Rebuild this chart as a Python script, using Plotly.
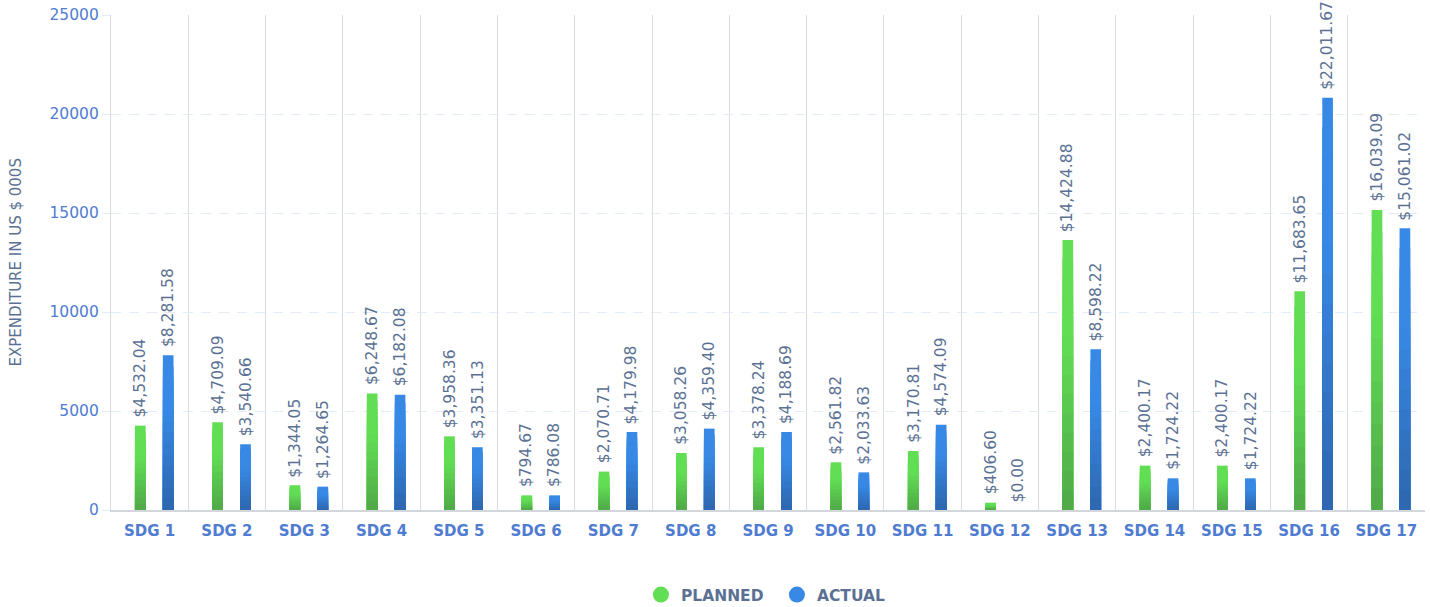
import plotly.graph_objects as go

categories = [f"SDG {i}" for i in range(1, 18)]

# values printed on the chart (US $ 000s)
planned_values = [4532.04, 4709.09, 1344.05, 6248.67, 3958.36, 794.67, 2070.71, 3058.26,
                  3378.24, 2561.82, 3170.81, 406.60, 14424.88, 2400.17, 2400.17, 11683.65, 16039.09]
actual_values = [8281.58, 3540.66, 1264.65, 6182.08, 3351.13, 786.08, 4179.98, 4359.40,
                 4188.69, 2033.63, 4574.09, 0.00, 8598.22, 1724.22, 1724.22, 22011.67, 15061.02]

# bar heights as drawn in the reference (read against the y axis)
planned_bars = [4260, 4430, 1250, 5890, 3720, 740, 1940, 2880, 3170, 2410, 2980, 370,
                13640, 2240, 2240, 11050, 15150]
actual_bars = [7810, 3320, 1180, 5820, 3170, 740, 3940, 4110, 3940, 1900, 4310, 0,
               8120, 1600, 1600, 20820, 14230]

y_ticks = [0, 5000, 10000, 15000, 20000, 25000]

FONT = "DejaVu Sans"
SLATE = "#5B7194"
TICKBLUE = "#4F7CD0"
GREEN_TOP, GREEN_BOTTOM = (98, 222, 85), (79, 168, 71)
BLUE_TOP, BLUE_BOTTOM = (55, 137, 229), (45, 102, 174)

BAR_W = 0.138
OFF_P = -0.19
OFF_A = 0.171
N_LAYERS = 14  # nested layers used to shade each bar with a vertical gradient


def shade(top, bottom, t):
    f = max(0.0, (t - 0.35) / 0.65)
    return "rgb(%d,%d,%d)" % tuple(round(a + (b - a) * f) for a, b in zip(top, bottom))


fig = go.Figure()
for name, bars, vals, off, top, bottom in (
        ("PLANNED", planned_bars, planned_values, OFF_P, GREEN_TOP, GREEN_BOTTOM),
        ("ACTUAL", actual_bars, actual_values, OFF_A, BLUE_TOP, BLUE_BOTTOM)):
    for k in range(N_LAYERS):
        frac = (N_LAYERS - k) / N_LAYERS       # layer reaches this share of the bar
        t = (k + 0.5) / N_LAYERS               # visible band position from the top
        fig.add_trace(go.Bar(
            x=categories, y=[v * frac for v in bars],
            name=name, marker_color=shade(top, bottom, t), marker_line_width=0,
            width=BAR_W, offset=off, showlegend=False,
            hoverinfo="x+text" if k == 0 else "skip",
            hovertext=[f"{name}: ${v:,.2f}" for v in vals]))

# legend entries
fig.add_trace(go.Scatter(x=[None], y=[None], mode="markers", name="PLANNED",
                         marker=dict(symbol="circle", size=22, color="rgb(98,222,85)")))
fig.add_trace(go.Scatter(x=[None], y=[None], mode="markers", name="ACTUAL",
                         marker=dict(symbol="circle", size=22, color="rgb(55,137,229)")))

annotations = []
for i, (pb, ab, pv, av) in enumerate(zip(planned_bars, actual_bars, planned_values, actual_values)):
    for bar, val, off in ((pb, pv, OFF_P), (ab, av, OFF_A)):
        annotations.append(dict(
            x=i + off + BAR_W / 2, y=bar, xref="x", yref="y",
            text=f"${val:,.2f}", textangle=-90, showarrow=False,
            xanchor="center", yanchor="bottom", yshift=6,
            font=dict(family=FONT, size=15.5, color=SLATE)))

annotations.append(dict(
    x=-0.0723, y=0.5, xref="paper", yref="paper", text="EXPENDITURE IN US $ 000S",
    textangle=-90, showarrow=False, xanchor="center", yanchor="middle",
    font=dict(family=FONT, size=15, color=SLATE)))

fig.update_layout(
    width=1430, height=607,
    margin=dict(l=111, r=5, t=15, b=97),
    paper_bgcolor="white", plot_bgcolor="white",
    barmode="overlay",
    annotations=annotations,
    font=dict(family=FONT, color=SLATE),
    legend=dict(orientation="h", x=0.5068, xanchor="center",
                yref="container", y=(607 - 595) / 607, yanchor="middle",
                font=dict(family=FONT, size=15.5, color=SLATE, weight="bold"),
                itemsizing="trace", traceorder="normal", entrywidth=91),
    xaxis=dict(
        type="category", range=[-0.5, 16.5],
        showgrid=True, gridcolor="#D9DCE1", gridwidth=1.3, tickson="boundaries",
        ticks="", showline=True, linecolor="#D3D6DB", linewidth=1.5,
        tickfont=dict(family=FONT, size=15, color=TICKBLUE, weight="bold"),
        ticklabelstandoff=6, zeroline=False,
    ),
    yaxis=dict(
        range=[0, 25000], tickvals=y_ticks, ticktext=[str(v) for v in y_ticks],
        showgrid=True, gridcolor="#E2EBF7", griddash="10px,8px", gridwidth=1,
        ticks="outside", ticklen=8, tickcolor="#E2EBF7",
        showline=True, linecolor="#D9DCE1", linewidth=1.3,
        tickfont=dict(family=FONT, size=15.5, color=TICKBLUE),
        zeroline=False,
    ),
)

fig.write_html("out.html", config={"displayModeBar": False},
               post_script="document.body.style.margin='0';document.body.style.overflow='hidden';")
